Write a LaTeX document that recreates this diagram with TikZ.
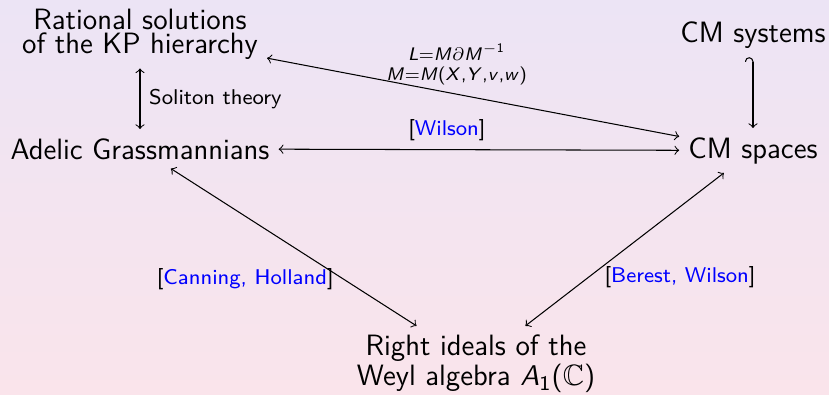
\documentclass[tikz,border=0pt]{standalone}
\usepackage{amsmath,amssymb}
\usetikzlibrary{arrows}
\renewcommand{\familydefault}{\sfdefault}
% sans serif letters and digits in math
\DeclareSymbolFont{sfletters}{OT1}{cmss}{m}{sl}
\SetSymbolFont{operators}{normal}{OT1}{cmss}{m}{n}
\DeclareMathSymbol{A}{\mathalpha}{sfletters}{`A}
\DeclareMathSymbol{L}{\mathalpha}{sfletters}{`L}
\DeclareMathSymbol{M}{\mathalpha}{sfletters}{`M}
\DeclareMathSymbol{X}{\mathalpha}{sfletters}{`X}
\DeclareMathSymbol{Y}{\mathalpha}{sfletters}{`Y}
\DeclareMathSymbol{v}{\mathalpha}{sfletters}{`v}
\DeclareMathSymbol{w}{\mathalpha}{sfletters}{`w}
\DeclareMathSymbol{,}{\mathpunct}{operators}{`,}
\definecolor{bgtop}{RGB}{236,228,245}
\definecolor{bgbot}{RGB}{250,228,235}
\begin{document}
\begin{tikzpicture}[
    x=0.0135cm,y=-0.0135cm,
    obj/.style={align=center,font=\fontsize{11.3}{9.2}\selectfont},
    lbl/.style={font=\fontsize{8.2}{10}\selectfont},
    frm/.style={align=center,font=\fontsize{10}{7.7}\selectfont},
    arr/.style={<->}
]
\shade[top color=bgtop,bottom color=bgbot] (0,0) rectangle (829,394);
\useasboundingbox (0,0) rectangle (829,394);
\node[obj] (rat) at (140,34) {Rational solutions\\of the KP hierarchy};
\node[obj,anchor=base] (adel) at (140,159) {Adelic Grassmannians};
\node[obj,anchor=base] (cmsp) at (753,158) {CM spaces};
\node[obj,anchor=base] (cmsys) at (753,42) {CM systems};
\node[obj] (weyl) at (476,364) {Right ideals of the\\Weyl algebra $A_1(\mathbb{C})$};
\draw[arr] (rat) -- node[right,lbl] {Soliton theory} (adel);
\draw[arr] (adel) -- node[above,lbl,pos=0.42] {[\textcolor{blue}{Wilson}]} (cmsp);
\draw[arr] (rat) -- node[above,frm,pos=0.46] {$\scriptstyle L=M\partial M^{-1}$\\$\scriptstyle M=M(X,Y,v,w)$} (cmsp);
\draw[left hook->] (cmsys) -- (cmsp);
\draw[arr] (adel) -- node[left,lbl,pos=0.7] {[\textcolor{blue}{Canning, Holland}]} (weyl);
\draw[arr] (cmsp) -- node[right=2.5pt,lbl,pos=0.68] {[\textcolor{blue}{Berest, Wilson}]} (weyl);
\end{tikzpicture}
\end{document}
